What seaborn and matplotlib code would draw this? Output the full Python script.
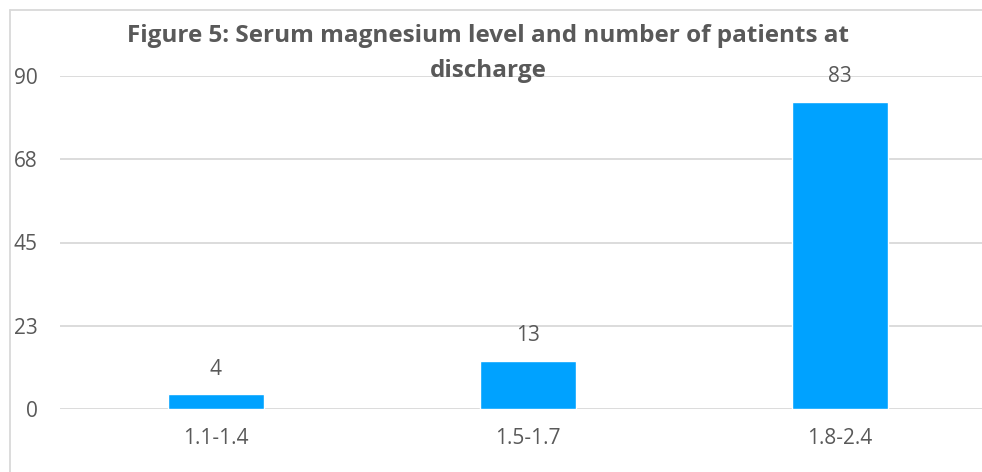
import matplotlib
matplotlib.use("Agg")
import matplotlib.pyplot as plt
import seaborn as sns
from matplotlib.lines import Line2D

# Magnesium ranges and patient counts at discharge
levels = ["1.1-1.4", "1.5-1.7", "1.8-2.4"]
patients = [4, 13, 83]
yticks = [0, 22.5, 45, 67.5, 90]
ytick_labels = ["0", "23", "45", "68", "90"]
title_lines = ["Figure 5: Serum magnesium level and number of patients at", "discharge"]

sns.set_theme(style="white")
plt.rcParams['font.family'] = ['Open Sans', 'DejaVu Sans']

grey = "#595959"
fig = plt.figure(figsize=(9.82, 4.72), dpi=100)
ax = fig.add_axes([60 / 982, 1 - 409 / 472, 936 / 982, 333 / 472])

sns.barplot(x=levels, y=patients, color="#00a2ff", saturation=1, width=0.31, ax=ax)

ax.set_xlim(-0.5, 2.5)
ax.set_ylim(0, 90)
ax.set_yticks(yticks)
ax.set_yticklabels(ytick_labels)
ax.grid(axis="y", color="#d9d9d9", linewidth=1.3)
ax.set_axisbelow(True)
for s in ax.spines.values():
    s.set_visible(False)
ax.tick_params(axis="both", length=0, labelsize=15, colors=grey)
ax.tick_params(axis="y", pad=16)
ax.tick_params(axis="x", pad=14)
ax.set_xlabel("")
ax.set_ylabel("")

for i, v in enumerate(patients):
    ax.annotate(str(v), (i, v), xytext=(0, 18), textcoords="offset points",
                ha="center", va="center", fontsize=15, color=grey)

# two-line title, baselines placed separately
for line, base in zip(title_lines, [42, 77]):
    fig.text(488 / 982, 1 - base / 472, line, ha="center", va="baseline",
             fontsize=17.5, fontweight="bold", color=grey)

# chart border (only top and left edges fall inside the image)
fig.add_artist(Line2D([10 / 982, 10 / 982], [0, 1 - 10 / 472], color="#d9d9d9", lw=1.3))
fig.add_artist(Line2D([10 / 982, 1], [1 - 10 / 472, 1 - 10 / 472], color="#d9d9d9", lw=1.3))

fig.savefig("out.png", dpi=100)
